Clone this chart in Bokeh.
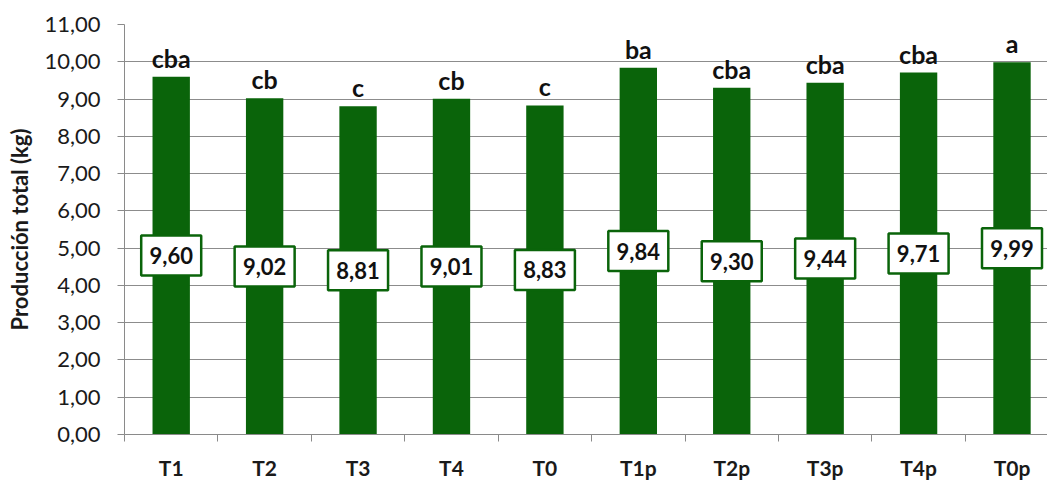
from bokeh.plotting import figure
from bokeh.models import Range1d, FixedTicker, ColumnDataSource
from bokeh.core.properties import value
from bokeh.embed import file_html
from bokeh.resources import INLINE

categories = ["T1", "T2", "T3", "T4", "T0", "T1p", "T2p", "T3p", "T4p", "T0p"]
production = [9.60, 9.02, 8.81, 9.01, 8.83, 9.84, 9.30, 9.44, 9.71, 9.99]
letters = ["cba", "cb", "c", "cb", "c", "ba", "cba", "cba", "cba", "a"]
y_ticks = list(range(0, 12))

GREEN = "#0A640A"
FONT = "Lato"

x_pos = list(range(len(categories)))
src = ColumnDataSource(dict(
    x=x_pos,
    top=production,
    mid=[v / 2 for v in production],
    vlabel=[f"{v:.2f}".replace(".", ",") for v in production],
    letter=letters,
))

p = figure(width=1047, height=482, output_backend="svg", toolbar_location=None,
           x_range=Range1d(-0.5, 9.38), y_range=Range1d(0, 11),
           min_border_left=124, min_border_top=24, min_border_bottom=43,
           min_border_right=0)
p.outline_line_color = None
p.background_fill_color = "white"

p.vbar(x="x", top="top", width=0.40, bottom=0, source=src,
       fill_color=GREEN, line_color=None)

# value boxes
p.rect(x="x", y="mid", width=60, height=40, width_units="screen",
       height_units="screen", source=src, fill_color="white",
       line_color=GREEN, line_width=2.5)
p.text(x="x", y="mid", text="vlabel", source=src, text_align="center",
       text_baseline="middle", text_font=value(FONT), text_font_style="bold",
       text_font_size="22px", text_color="#111111")

# letters
p.text(x="x", y="top", text="letter", source=src, text_align="center",
       text_baseline="alphabetic", y_offset=-19, text_font=value(FONT),
       text_font_style="bold", text_font_size="25px", text_color="#111111")

# y axis
yax = p.yaxis[0]
yax.ticker = FixedTicker(ticks=y_ticks)
yax.major_label_overrides = {t: f"{t:.2f}".replace(".", ",") for t in y_ticks}
yax.major_label_text_font = FONT
yax.major_label_text_font_size = "22px"
yax.major_label_text_color = "#1a1a1a"
yax.major_label_standoff = 17
yax.major_tick_out = 7
yax.major_tick_in = 0
yax.minor_tick_line_color = None
yax.axis_line_color = "#8a8a8a"
yax.major_tick_line_color = "#8a8a8a"
yax.axis_label = "Producción total (kg)"
yax.axis_label_text_font = FONT
yax.axis_label_text_font_style = "bold"
yax.axis_label_text_font_size = "22px"
yax.axis_label_text_color = "#1a1a1a"
yax.axis_label_standoff = 8

# x axis
xax = p.xaxis[0]
xax.ticker = FixedTicker(ticks=x_pos, minor_ticks=[i + 0.5 for i in x_pos[:-1]] + [-0.5])
xax.major_label_overrides = {i: c for i, c in zip(x_pos, categories)}
xax.major_label_text_font = FONT
xax.major_label_text_font_style = "bold"
xax.major_label_text_font_size = "21px"
xax.major_label_text_color = "#1a1a1a"
xax.major_label_standoff = 13
xax.major_tick_out = 0
xax.major_tick_in = 0
xax.major_tick_line_color = None
xax.minor_tick_out = 7
xax.minor_tick_in = 0
xax.minor_tick_line_color = "#8a8a8a"
xax.axis_line_color = "#8a8a8a"

p.xgrid.grid_line_color = None
p.ygrid.grid_line_color = "#8c8c8c"
p.ygrid.grid_line_width = 1.2

open("out.html", "w").write(file_html(p, INLINE))
